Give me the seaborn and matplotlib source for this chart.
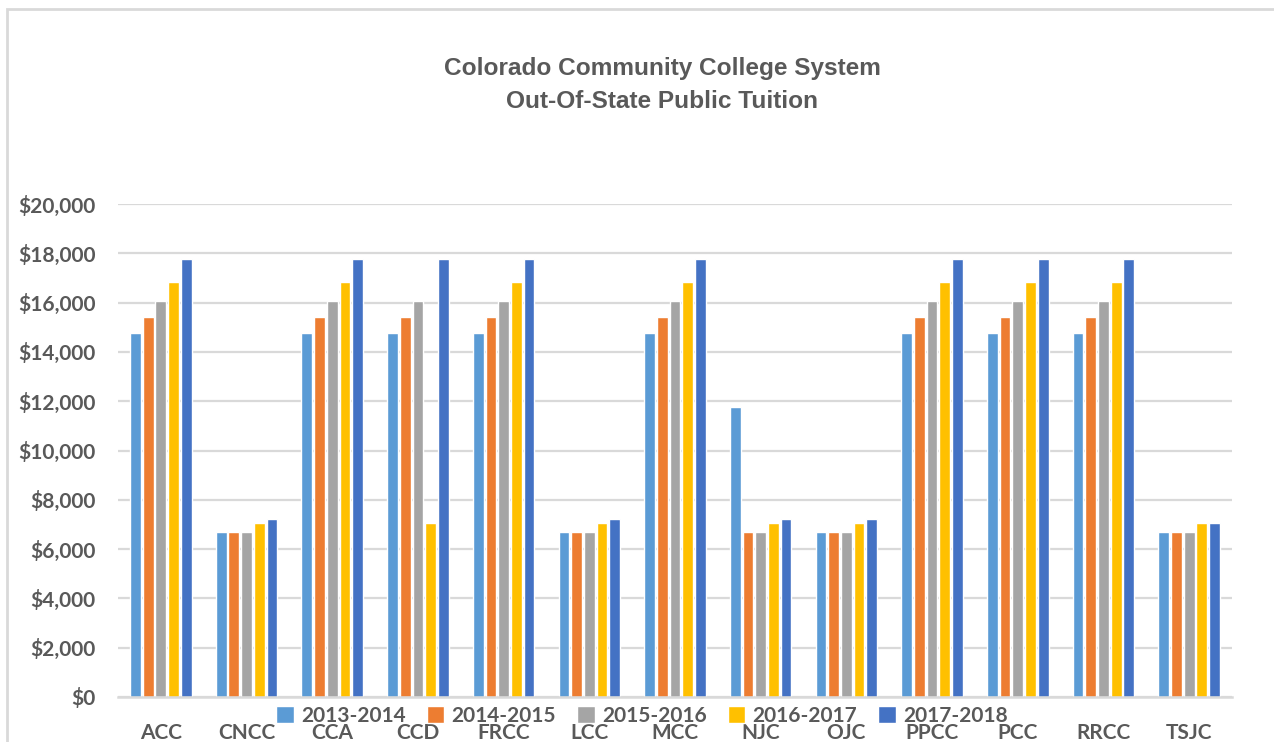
import matplotlib
matplotlib.use("Agg")
import matplotlib.pyplot as plt
import seaborn as sns
import pandas as pd
from matplotlib.patches import Rectangle
from matplotlib.ticker import FuncFormatter

colleges = ["ACC", "CNCC", "CCA", "CCD", "FRCC", "LCC", "MCC", "NJC", "OJC",
            "PPCC", "PCC", "RRCC", "TSJC"]
years = ["2013-2014", "2014-2015", "2015-2016", "2016-2017", "2017-2018"]

t_2013_2014 = [14760, 6690, 14760, 14760, 14760, 6690, 14760, 11770, 6690, 14760, 14760, 14760, 6690]
t_2014_2015 = [15400, 6690, 15400, 15400, 15400, 6690, 15400, 6690, 6690, 15400, 15400, 15400, 6690]
t_2015_2016 = [16080, 6690, 16080, 16080, 16080, 6690, 16080, 6690, 6690, 16080, 16080, 16080, 6690]
t_2016_2017 = [16840, 7060, 16840, 7060, 16840, 7060, 16840, 7060, 7060, 16840, 16840, 16840, 7060]
t_2017_2018 = [17770, 7220, 17770, 17770, 17770, 7220, 17770, 7220, 7220, 17770, 17770, 17770, 7060]

colors = ["#5B9BD5", "#ED7D31", "#A5A5A5", "#FFC000", "#4472C4"]

series = [t_2013_2014, t_2014_2015, t_2015_2016, t_2016_2017, t_2017_2018]
rows = []
for yr, vals in zip(years, series):
    for c, v in zip(colleges, vals):
        rows.append({"College": c, "Year": yr, "Tuition": v})
df = pd.DataFrame(rows)

sns.set_theme(style="white")
plt.rcParams["font.family"] = ["Lato", "DejaVu Sans"]

W, H = 1274, 742
fig = plt.figure(figsize=(W / 100, H / 100), dpi=100)
ax = fig.add_axes([118 / W, 1 - 697 / H, (1232 - 118) / W, (697 - 204) / H])

sns.barplot(data=df, x="College", y="Tuition", hue="Year", order=colleges,
            hue_order=years, palette=colors, width=0.74, gap=0.15,
            saturation=1, errorbar=None, ax=ax, legend=True)

txt = "#595959"
ax.set_ylim(0, 20000)
ax.set_xlim(-0.5, len(colleges) - 0.5)
ax.set_yticks(range(0, 20001, 2000))
ax.yaxis.set_major_formatter(FuncFormatter(lambda v, p: f"${int(v):,}"))
ax.grid(axis="y", color="#D9D9D9", linewidth=1.6)
ax.set_axisbelow(True)
for s in ["top", "right", "left"]:
    ax.spines[s].set_visible(False)
ax.spines["bottom"].set_color("#D9D9D9")
ax.spines["bottom"].set_linewidth(1.8)
ax.set_xlabel("")
ax.set_ylabel("")
ax.tick_params(axis="y", length=0, pad=16, labelsize=15, labelcolor=txt)
ax.tick_params(axis="x", length=0, pad=19, labelsize=15, labelcolor=txt)
for lab in ax.get_xticklabels() + ax.get_yticklabels():
    lab.set_fontweight("bold")

handles, labels = ax.get_legend_handles_labels()
ax.legend_.remove()
leg = fig.legend(handles, labels, loc="center", bbox_to_anchor=(642 / W, 1 - 716 / H),
                 ncol=5, frameon=False, handlelength=0.85, handleheight=0.85,
                 handletextpad=0.35, columnspacing=1.0,
                 prop={"family": ["Lato", "DejaVu Sans"], "weight": "bold", "size": 15})
for t in leg.get_texts():
    t.set_color(txt)

fig.text(662 / W, 1 - 68 / H, "Colorado Community College System", ha="center", va="center",
         fontsize=17.6, fontweight="bold", color=txt, family=["Liberation Sans", "DejaVu Sans"])
fig.text(662 / W, 1 - 101 / H, "Out-Of-State Public Tuition", ha="center", va="center",
         fontsize=17.6, fontweight="bold", color=txt, family=["Liberation Sans", "DejaVu Sans"])

fig.patches.append(Rectangle((7 / W, -0.1), 1.2, 1 - 9 / H + 0.1, transform=fig.transFigure,
                             fill=False, edgecolor="#D9D9D9", linewidth=2))

fig.savefig("out.png", dpi=100)
